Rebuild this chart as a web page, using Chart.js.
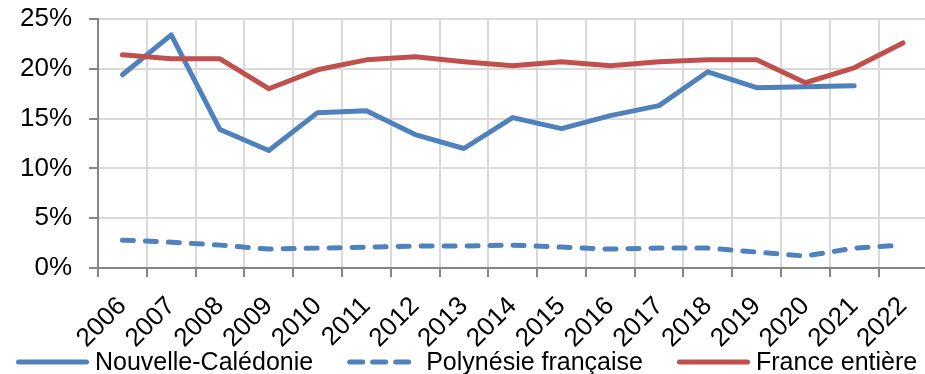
<!DOCTYPE html>
<html lang="fr">
<head>
<meta charset="utf-8">
<title>Taux de pauvreté</title>
<script src="https://cdn.jsdelivr.net/npm/chart.js@4.4.1/dist/chart.umd.min.js"></script>
<style>
  html, body { margin: 0; padding: 0; background: #fff; overflow: hidden; }
  #wrap { position: relative; width: 939px; height: 374px; }
</style>
</head>
<body>
<div id="wrap"><canvas id="chart"></canvas></div>
<script>
// Années
const years = ["2006", "2007", "2008", "2009", "2010", "2011", "2012", "2013", "2014",
  "2015", "2016", "2017", "2018", "2019", "2020", "2021", "2022"];

// Valeurs en %
const nouvelleCaledonie = [19.4, 23.4, 13.9, 11.8, 15.6, 15.8, 13.4, 12.0, 15.1,
  14.0, 15.3, 16.3, 19.7, 18.1, 18.2, 18.3, null];
const polynesie = [2.8, 2.6, 2.3, 1.9, 2.0, 2.1, 2.2, 2.2, 2.3,
  2.1, 1.9, 2.0, 2.0, 1.6, 1.2, 2.0, 2.3];
const franceEntiere = [21.4, 21.0, 21.0, 18.0, 19.9, 20.9, 21.2, 20.7, 20.3,
  20.7, 20.3, 20.7, 20.9, 20.9, 18.6, 20.1, 22.6];

const yTicks = [0, 5, 10, 15, 20, 25];

const FONT = "'Liberation Sans', Arial, sans-serif";
const BLUE = "#4f81bd";
const RED = "#c0504d";

// Légende en bas : trait de 68 px puis libellé
const bottomLegend = {
  id: "bottomLegend",
  afterDraw(chart) {
    const c = chart.ctx;
    const yLine = chart.height - 12;
    const yText = chart.height - 4;
    let x = 16;
    c.save();
    c.font = "25px " + FONT;
    c.textBaseline = "alphabetic";
    c.textAlign = "left";
    chart.data.datasets.forEach((ds) => {
      c.strokeStyle = ds.borderColor;
      c.lineWidth = ds.borderWidth;
      c.lineCap = "round";
      c.setLineDash(ds.borderDash ? [13, 10] : []);
      c.beginPath();
      c.moveTo(x + 2.5, yLine);
      c.lineTo(x + 70.5, yLine);
      c.stroke();
      c.setLineDash([]);
      x += 79;
      c.fillStyle = "#000";
      c.fillText(ds.label, x, yText);
      x += c.measureText(ds.label).width + 34;
    });
    c.restore();
  },
};

const ctx = document.getElementById("chart").getContext("2d");
new Chart(ctx, {
  type: "line",
  data: {
    labels: years,
    datasets: [
      {
        label: "Nouvelle-Calédonie",
        data: nouvelleCaledonie,
        borderColor: BLUE,
        borderWidth: 5,
        borderCapStyle: "round",
        borderJoinStyle: "round",
        pointRadius: 0,
        tension: 0,
        order: 1,
      },
      {
        label: "Polynésie française",
        data: polynesie,
        borderColor: BLUE,
        borderWidth: 5,
        borderDash: [11, 12],
        borderCapStyle: "round",
        borderJoinStyle: "round",
        pointRadius: 0,
        tension: 0,
        order: 1,
      },
      {
        label: "France entière",
        data: franceEntiere,
        borderColor: RED,
        borderWidth: 5,
        borderCapStyle: "round",
        borderJoinStyle: "round",
        pointRadius: 0,
        tension: 0,
        order: 0,
      },
    ],
  },
  plugins: [bottomLegend],
  options: {
    responsive: true,
    maintainAspectRatio: false,
    animation: false,
    layout: {
      padding: { top: 0, left: 3, right: 0, bottom: 6 },
    },
    plugins: {
      legend: { display: false },
      tooltip: { enabled: false },
    },
    scales: {
      x: {
        offset: true,
        grid: {
          offset: true,
          color: "#d9d9d9",
          lineWidth: 2,
          tickColor: "#868686",
          tickLength: 9,
        },
        border: { color: "#868686", width: 2 },
        ticks: {
          minRotation: 45,
          maxRotation: 45,
          padding: 14,
          color: "#000",
          font: { family: FONT, size: 26 },
        },
      },
      y: {
        min: yTicks[0],
        max: yTicks[yTicks.length - 1],
        afterBuildTicks: (axis) => {
          axis.ticks = yTicks.map((v) => ({ value: v }));
        },
        // la marge des libellés ne doit pas repousser le haut du graphique
        afterFit: (axis) => {
          axis.paddingTop = 19;
          axis.paddingBottom = 16;
        },
        grid: {
          color: "#d9d9d9",
          lineWidth: 2,
          tickColor: "#868686",
          tickLength: 9,
        },
        border: { color: "#868686", width: 2 },
        ticks: {
          padding: 17,
          color: "#000",
          font: { family: FONT, size: 26 },
          callback: (v) => v + "%",
        },
      },
    },
  },
});
</script>
</body>
</html>
